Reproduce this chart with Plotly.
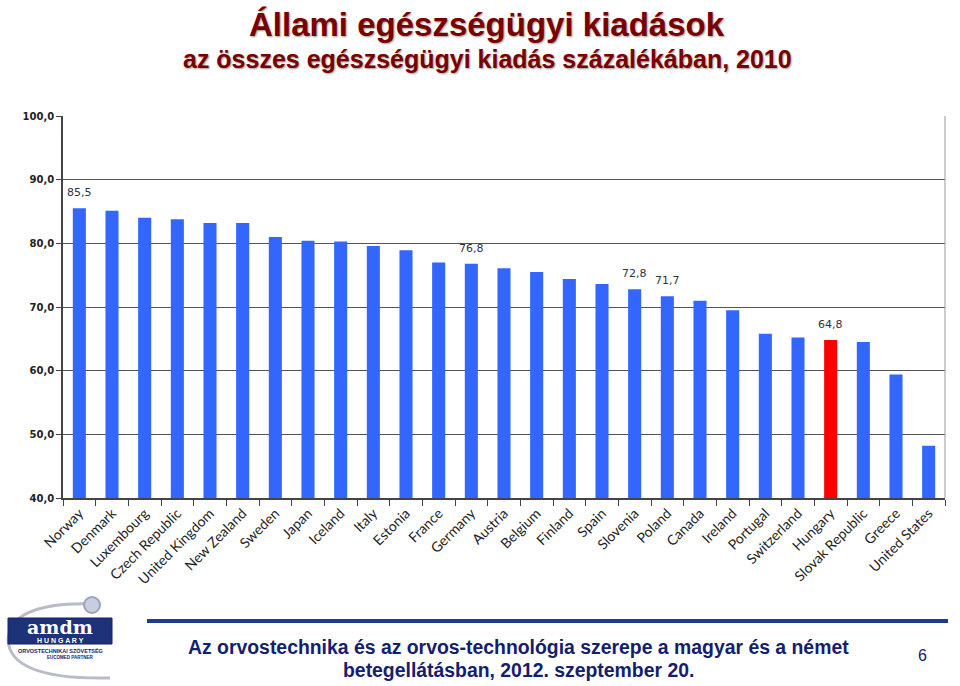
import plotly.graph_objects as go

countries = ["Norway", "Denmark", "Luxembourg", "Czech Republic", "United Kingdom",
             "New Zealand", "Sweden", "Japan", "Iceland", "Italy", "Estonia", "France",
             "Germany", "Austria", "Belgium", "Finland", "Spain", "Slovenia", "Poland",
             "Canada", "Ireland", "Portugal", "Switzerland", "Hungary", "Slovak Republic",
             "Greece", "United States"]
values = [85.5, 85.1, 84.0, 83.8, 83.2, 83.2, 81.0, 80.4, 80.3, 79.6, 78.9, 77.0,
          76.8, 76.1, 75.5, 74.4, 73.6, 72.8, 71.7, 71.0, 69.5, 65.8, 65.2, 64.8,
          64.5, 59.4, 48.2]
labelled = ["Norway", "Germany", "Slovenia", "Poland", "Hungary"]
highlight = "Hungary"
y_ticks = [40, 50, 60, 70, 80, 90, 100]

BLUE = "#3366FF"
RED = "#FF0000"
TITLE_C = "#7A0000"
NAVY = "#14206E"

colors = [RED if c == highlight else BLUE for c in countries]

fig = go.Figure()
fig.add_trace(go.Bar(
    x=countries, y=values, marker=dict(color=colors, line=dict(width=0)),
    hoverinfo="x+y", showlegend=False,
))

# value labels for selected bars
for c, v in zip(countries, values):
    if c in labelled:
        fig.add_annotation(x=c, y=v, xref="x", yref="y", text=f"{v:.1f}".replace(".", ","),
                           showarrow=False, yanchor="bottom", yshift=7,
                           font=dict(family="DejaVu Sans", size=11, color="#333333"))

fig.update_layout(
    width=960, height=686,
    margin=dict(l=63, r=15, t=116, b=188),
    paper_bgcolor="white", plot_bgcolor="white",
    bargap=0.6,
    xaxis=dict(
        type="category", tickangle=-45, ticks="outside", tickson="boundaries",
        ticklen=6, tickcolor="#444", showline=True, linecolor="#444", linewidth=1.5,
        tickfont=dict(family="Lato", size=14, color="#222"), showgrid=False,
    ),
    yaxis=dict(
        range=[40, 100], tickvals=y_ticks,
        ticktext=[f"{v:.1f}".replace(".", ",") for v in y_ticks],
        ticks="outside", ticklen=5, tickcolor="#444",
        showline=True, linecolor="#444", linewidth=1.5,
        showgrid=True, gridcolor="#555", gridwidth=1,
        tickfont=dict(family="DejaVu Sans", size=10, color="#222", weight="bold"),
        zeroline=False,
    ),
)

# right border of plot area
fig.add_shape(type="line", xref="paper", yref="paper", x0=1, x1=1, y0=0, y1=1,
              line=dict(color="#999", width=1))


def px_x(x):
    return (x - 63) / (960 - 63 - 15)


def px_y(y):
    return (686 - 188 - y) / (686 - 116 - 188)


def pa(x, y, text, size, color, bold=True, family="Liberation Sans", shadow=None):
    f = dict(family=family, size=size, color=color, weight="bold" if bold else "normal")
    if shadow:
        f["shadow"] = shadow
    fig.add_annotation(text=text, xref="paper", yref="paper", x=px_x(x), y=px_y(y),
                       xanchor="center", yanchor="middle", showarrow=False, font=f)


pa(487, 25, "Állami egészségügyi kiadások", 33, TITLE_C, shadow="1px 1px 2px #999")
pa(487, 59, "az összes egészségügyi kiadás százalékában, 2010", 25, TITLE_C, shadow="1px 1px 2px #999")

# footer
fig.add_shape(type="line", xref="paper", yref="paper", x0=px_x(147), x1=px_x(948),
              y0=px_y(621), y1=px_y(621), line=dict(color="#1F3C8C", width=4))
pa(518, 647, "Az orvostechnika és az orvos-technológia szerepe a magyar és a német", 19.4, NAVY)
pa(518, 670, "betegellátásban, 2012. szeptember 20.", 19.4, NAVY)
pa(922, 655, "6", 16, NAVY, bold=False)

# logo approximation
fig.add_shape(type="path", xref="paper", yref="paper",
              path=f"M {px_x(100)} {px_y(604)} Q {px_x(10)} {px_y(600)} {px_x(8)} {px_y(640)} "
                   f"Q {px_x(10)} {px_y(680)} {px_x(110)} {px_y(678)}",
              line=dict(color="#B8BCC8", width=3))
fig.add_shape(type="circle", xref="paper", yref="paper",
              x0=px_x(84), x1=px_x(100), y0=px_y(597), y1=px_y(613),
              line=dict(color="#9AA3B8", width=2), fillcolor="#C8CEDD")
fig.add_shape(type="rect", xref="paper", yref="paper",
              x0=px_x(8), x1=px_x(112), y0=px_y(618), y1=px_y(644),
              line=dict(color=NAVY, width=1), fillcolor="#1E3278")
pa(60, 627, "amdm", 19, "white", family="DejaVu Serif")
pa(60, 640, "H U N G A R Y", 7, "white")
pa(60, 650, "ORVOSTECHNIKAI SZÖVETSÉG", 5.5, NAVY)
pa(70, 657, "EUCOMED PARTNER", 4.5, NAVY)

fig.write_html("out.html")
